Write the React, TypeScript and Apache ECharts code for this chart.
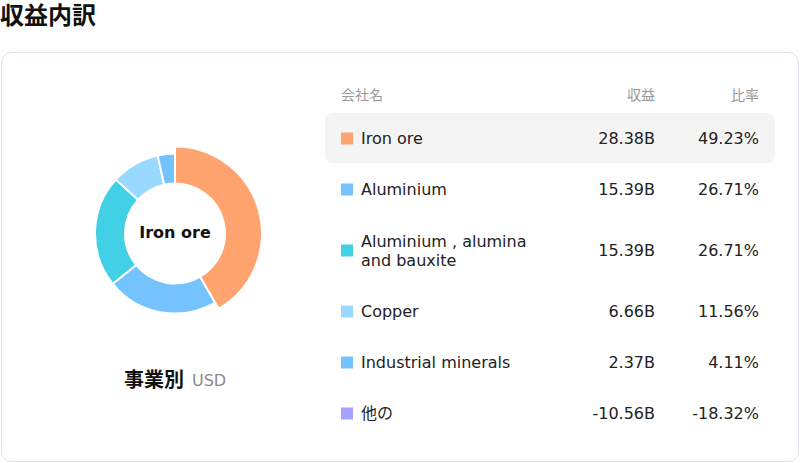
import React, { useEffect, useRef } from "react";
import * as echarts from "echarts";

const title = "収益内訳";
const subtitle = "事業別";
const unit = "USD";
const headers = ["会社名", "収益", "比率"];
const categories = [
  "Iron ore",
  "Aluminium",
  "Aluminium , alumina\nand bauxite",
  "Copper",
  "Industrial minerals",
  "他の",
];
const revenues = [28.38, 15.39, 15.39, 6.66, 2.37, -10.56];
const ratios = [49.23, 26.71, 26.71, 11.56, 4.11, -18.32];
const colors = ["#FFA46E", "#74C3FF", "#42D0E6", "#99D9FF", "#74C3FF", "#A3A3FF"];

const FONT = "DejaVu Sans, 'Noto Sans CJK JP', sans-serif";

export default function App() {
  const ref = useRef<HTMLDivElement>(null);
  useEffect(() => {
    if (!ref.current) return;
    const chart = echarts.init(ref.current, undefined, { renderer: "svg" });

    const pieData = categories
      .map((c, i) => ({
        name: c.replace("\n", " "),
        value: revenues[i],
        itemStyle: { color: colors[i] },
        emphasis: { itemStyle: { color: colors[i] } },
      }))
      .filter((d) => d.value > 0);

    const graphics: any[] = [];
    graphics.push({
      type: "rect",
      shape: { x: 1.5, y: 52.5, width: 797, height: 409, r: 10 },
      style: { fill: "#fff", stroke: "#E2E0EE", lineWidth: 1 },
      z: -10,
    });
    graphics.push({
      type: "text",
      x: 0,
      y: 16,
      style: {
        text: title,
        font: `bold 24px ${FONT}`,
        fill: "#111",
        textVerticalAlign: "middle",
      },
    });
    graphics.push({
      type: "text",
      x: 175,
      y: 232,
      style: {
        text: categories[0],
        font: `bold 16px ${FONT}`,
        fill: "#111",
        textAlign: "center",
        textVerticalAlign: "middle",
      },
    });
    graphics.push({
      type: "text",
      x: 124,
      y: 380,
      style: {
        text: subtitle,
        font: `bold 20px ${FONT}`,
        fill: "#111",
        textVerticalAlign: "middle",
      },
    });
    graphics.push({
      type: "text",
      x: 192,
      y: 380,
      style: {
        text: unit,
        font: `16px ${FONT}`,
        fill: "#8a8a8a",
        textVerticalAlign: "middle",
      },
    });
    const headerX = [341, 655, 759];
    const headerAlign = ["left", "right", "right"];
    headers.forEach((h, i) => {
      graphics.push({
        type: "text",
        x: headerX[i],
        y: 95,
        style: {
          text: h,
          font: `14px ${FONT}`,
          fill: "#999",
          textAlign: headerAlign[i],
          textVerticalAlign: "middle",
        },
      });
    });
    let top = 113;
    categories.forEach((c, i) => {
      const lines = c.split("\n").length;
      const h = 51 + (lines - 1) * 20;
      const cy = top + h / 2;
      if (i === 0) {
        graphics.push({
          type: "rect",
          shape: { x: 325, y: 113, width: 450, height: 50, r: 8 },
          style: { fill: "#F4F4F4" },
          z: -5,
        });
      }
      graphics.push({
        type: "rect",
        shape: { x: 341, y: cy - 6, width: 12, height: 12 },
        style: { fill: colors[i] },
      });
      graphics.push({
        type: "text",
        x: 361,
        y: cy,
        style: {
          text: c,
          font: `16px ${FONT}`,
          fill: "#222",
          lineHeight: 19,
          textVerticalAlign: "middle",
        },
      });
      graphics.push({
        type: "text",
        x: 655,
        y: cy,
        style: {
          text: revenues[i].toFixed(2) + "B",
          font: `16px ${FONT}`,
          fill: "#222",
          textAlign: "right",
          textVerticalAlign: "middle",
        },
      });
      graphics.push({
        type: "text",
        x: 759,
        y: cy,
        style: {
          text: ratios[i].toFixed(2) + "%",
          font: `16px ${FONT}`,
          fill: "#222",
          textAlign: "right",
          textVerticalAlign: "middle",
        },
      });
      top += h;
    });

    chart.setOption({
      animation: false,
      series: [
        {
          type: "pie",
          center: [175, 233.5],
          radius: [50, 80],
          startAngle: 90,
          clockwise: true,
          label: { show: false },
          labelLine: { show: false },
          itemStyle: { borderColor: "#fff", borderWidth: 2 },
          emphasis: { scale: true, scaleSize: 7, focus: "none" },
          data: pieData,
        },
      ],
      graphic: graphics,
    });
    chart.dispatchAction({ type: "highlight", seriesIndex: 0, dataIndex: 0 });
    return () => chart.dispose();
  }, []);
  return (
    <div
      ref={ref}
      style={{ position: "absolute", left: 0, top: 0, width: 800, height: 463 }}
    />
  );
}
